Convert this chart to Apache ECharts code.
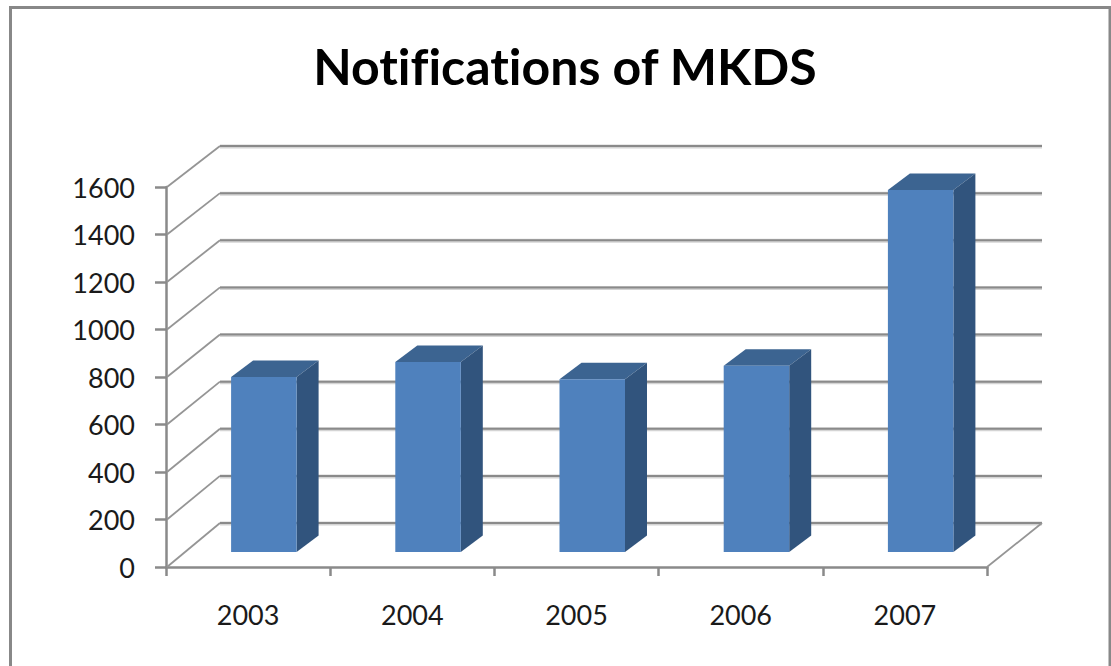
<!DOCTYPE html>
<html>
<head>
<meta charset="utf-8">
<title>Notifications of MKDS</title>
<script src="https://cdn.jsdelivr.net/npm/echarts@6/dist/echarts.min.js"></script>
<style>
  html, body { margin: 0; padding: 0; background: #fff; }
  #chart { width: 1111px; height: 666px; font-variant-ligatures: none; }
</style>
</head>
<body>
<div id="chart"></div>
<script>
var years = ['2003', '2004', '2005', '2006', '2007']
var notifications = [737, 800, 727, 784, 1524]
var yTicks = [0, 200, 400, 600, 800, 1000, 1200, 1400, 1600]

// svg so the ligature rule above reaches the text
var chart = echarts.init(document.getElementById('chart'), null, { renderer: 'svg' })

var gridColor = '#8a8a8a'
var fontName = 'Lato'

// back wall sits up and to the right of the axis plane
function wallLines(params, api) {
  var tick = api.value(1)
  var rect = params.coordSys
  var front = api.coord([0, tick])
  var backY = front[1] - 44 + 3 * tick / 1600
  var backLeft = rect.x + 54
  var backRight = rect.x + rect.width + 55
  var children = [
    {
      type: 'polyline',
      shape: { points: [[rect.x + 1, front[1]], [backLeft, backY]] },
      style: { stroke: '#959595', lineWidth: 1.8, fill: null }
    },
    {
      type: 'line',
      shape: { x1: backLeft, y1: backY + 0.5, x2: backRight, y2: backY + 0.5 },
      style: { stroke: '#d4d4d4', lineWidth: 4 }
    },
    {
      type: 'line',
      shape: { x1: backLeft, y1: backY, x2: backRight, y2: backY },
      style: { stroke: gridColor, lineWidth: 2 }
    }
  ]
  if (tick === 0) {
    // floor edge on the right side
    children.push({
      type: 'polyline',
      shape: { points: [[rect.x + rect.width, front[1]], [backRight, backY]] },
      style: { stroke: '#959595', lineWidth: 1.8, fill: null }
    })
  }
  return { type: 'group', children: children }
}

// box = front face + top + side, front face stands on the floor
function bar3d(params, api) {
  var zero = api.coord([api.value(0), 0])
  var top = api.coord([api.value(0), api.value(1)])
  var x1 = zero[0] - 17
  var x2 = x1 + 65.5
  var base = zero[1] - 15
  var y = base - (zero[1] - top[1])
  var dx = 22
  var dy = 16.5
  return {
    type: 'group',
    children: [
      {
        type: 'polygon',
        shape: { points: [[x1, y], [x1 + dx, y - dy], [x2 + dx, y - dy], [x2, y]] },
        style: { fill: '#3c6491' }
      },
      {
        type: 'polygon',
        shape: { points: [[x2, y], [x2 + dx, y - dy], [x2 + dx, base - dy], [x2, base]] },
        style: { fill: '#31547d' }
      },
      {
        type: 'rect',
        shape: { x: x1, y: y, width: x2 - x1, height: base - y },
        style: { fill: '#4f81bd' }
      }
    ]
  }
}

var option = {
  animation: false,
  backgroundColor: '#fff',
  title: {
    text: 'Notifications of MKDS',
    left: 560,
    top: 36,
    textAlign: 'center',
    textStyle: { fontFamily: fontName, fontSize: 50, fontWeight: 'bold', color: '#000' }
  },
  grid: { left: 166, top: 187, width: 821, height: 380 },
  graphic: [
    {
      type: 'polyline',
      silent: true,
      shape: { points: [[10.5, 666], [10.5, 7.5], [1110, 7.5], [1110, 666]] },
      style: { stroke: '#888', lineWidth: 3, fill: null }
    }
  ],
  xAxis: {
    type: 'category',
    data: years,
    axisLine: { lineStyle: { color: gridColor, width: 2.5 } },
    axisTick: { show: true, length: 9, lineStyle: { color: gridColor, width: 2.5 } },
    axisLabel: { margin: 34, color: '#1a1a1a', fontFamily: fontName, fontSize: 27 },
    splitLine: { show: false }
  },
  yAxis: {
    type: 'value',
    min: 0,
    max: 1600,
    interval: 200,
    axisLine: { show: true, lineStyle: { color: gridColor, width: 2.5 } },
    axisTick: { show: true, length: 11, lineStyle: { color: gridColor, width: 2.5 } },
    axisLabel: {
      margin: 31,
      color: '#1a1a1a',
      fontFamily: fontName,
      fontSize: 27,
      formatter: function (v) { return String(v) }
    },
    splitLine: { show: false }
  },
  series: [
    {
      name: 'walls',
      type: 'custom',
      clip: false,
      silent: true,
      renderItem: wallLines,
      encode: { x: 0, y: 1 },
      data: yTicks.map(function (t) { return [0, t] })
    },
    {
      name: 'Notifications',
      type: 'custom',
      clip: false,
      renderItem: bar3d,
      encode: { x: 0, y: 1 },
      data: notifications.map(function (v, i) { return [i, v] })
    }
  ]
}
chart.setOption(option)
</script>
</body>
</html>
